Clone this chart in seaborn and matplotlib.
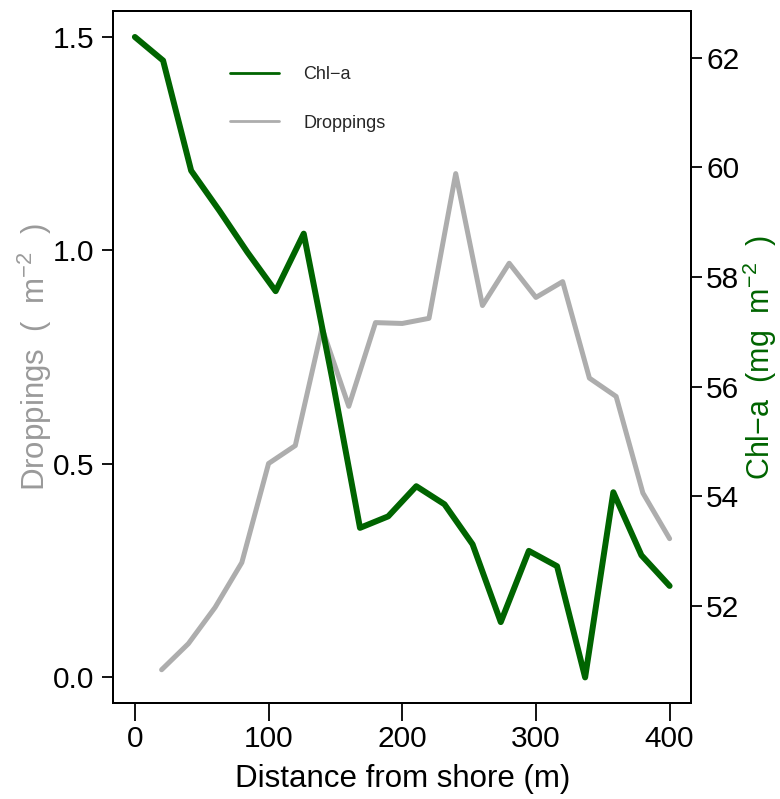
import numpy as np
import matplotlib
matplotlib.use("Agg")
import matplotlib.pyplot as plt
from matplotlib.lines import Line2D
import seaborn as sns

# Distance from shore (m) for each series
distance_chl = [0, 21.1, 42.1, 63.2, 84.2, 105.3, 126.3, 147.4, 168.4, 189.5,
                210.5, 231.6, 252.6, 273.7, 294.7, 315.8, 336.8, 357.9, 378.9, 400]
distance_drop = [20, 40, 60, 80, 100, 120, 140, 160, 180, 200,
                 220, 240, 260, 280, 300, 320, 340, 360, 380, 400]

# Chlorophyll-a (mg m^-2)
chl_a = [62.38, 61.95, 59.94, 59.21, 58.45, 57.74, 58.79, 56.17, 53.42, 53.63,
         54.18, 53.85, 53.12, 51.70, 53.00, 52.72, 50.69, 54.07, 52.92, 52.36]

# Droppings (m^-2)
droppings = [0.018, 0.079, 0.164, 0.269, 0.501, 0.543, 0.818, 0.635, 0.831, 0.829,
             0.841, 1.180, 0.871, 0.970, 0.890, 0.927, 0.701, 0.658, 0.432, 0.325]

x_ticks = [0, 100, 200, 300, 400]
drop_ticks = [0.0, 0.5, 1.0, 1.5]
chl_ticks = [52, 54, 56, 58, 60, 62]

GREEN = "#006400"
GREY = "#ADADAD"
LABEL_GREY = "#9A9A9A"

sns.set_theme(style="ticks")
plt.rcParams["font.family"] = ["Liberation Sans", "DejaVu Sans"]
plt.rcParams["mathtext.fontset"] = "custom"
plt.rcParams["mathtext.rm"] = "Liberation Sans"
plt.rcParams["mathtext.it"] = "Liberation Sans:italic"
plt.rcParams["mathtext.bf"] = "Liberation Sans:bold"

fig = plt.figure(figsize=(7.8, 7.99), dpi=100)
fig.patch.set_facecolor("white")
ax = fig.add_axes([0.1455, 0.1201, 0.7404, 0.8657])
ax.set_facecolor("white")


def padded(lo, hi, frac=0.04):
    span = hi - lo
    return lo - frac * span, hi + frac * span


# Droppings on the left axis
sns.lineplot(x=distance_drop, y=droppings, ax=ax, color=GREY, lw=3.6,
             solid_capstyle="round", solid_joinstyle="round", legend=False)
ax.set_xlim(*padded(0, 400))
ax.set_ylim(*padded(0, 1.5))
ax.set_xticks(x_ticks)
ax.set_xticklabels([str(v) for v in x_ticks])
ax.set_yticks(drop_ticks)
ax.set_yticklabels([f"{v:.1f}" for v in drop_ticks])

# Chl-a on the right axis
ax2 = ax.twinx()
sns.lineplot(x=distance_chl, y=chl_a, ax=ax2, color=GREEN, lw=4.3,
             solid_capstyle="round", solid_joinstyle="round", legend=False)
ax2.set_ylim(*padded(min(chl_a), max(chl_a)))
ax2.set_yticks(chl_ticks)
ax2.set_yticklabels([str(v) for v in chl_ticks])

for a in (ax, ax2):
    a.grid(False)
    for s in a.spines.values():
        s.set_color("black")
        s.set_linewidth(1.4)

ax.tick_params(axis="y", direction="out", length=8, width=1.3, labelsize=21.5,
               pad=6, colors="black")
ax.tick_params(axis="x", direction="out", length=13, width=1.3, labelsize=21.5,
               pad=3, colors="black")
ax2.tick_params(axis="y", direction="out", length=8, width=1.3, labelsize=21.5,
                pad=3, colors="black")

ax.set_xlabel("Distance from shore (m)", fontsize=22.5, color="black", labelpad=8)
ax.set_ylabel(r"Droppings  (  m$^{-2}$  )", fontsize=22.5, color=LABEL_GREY,
              labelpad=-1)
ax2.set_ylabel("Chl\u2212a  (mg  m$^{-2}$  )", fontsize=22, color=GREEN,
               labelpad=0.5, rotation=90)

handles = [Line2D([], [], color=GREEN, lw=2.0),
           Line2D([], [], color=GREY, lw=2.0)]
ax2.legend(handles, ["Chl\u2212a", "Droppings"], loc="upper left",
           bbox_to_anchor=(230 / 780, 1 - 66 / 799), bbox_transform=fig.transFigure,
           frameon=False, fontsize=13, handlelength=2.7, handletextpad=1.35,
           labelspacing=1.75, borderpad=0, borderaxespad=0)

fig.savefig("out.png", dpi=100, facecolor="white")
